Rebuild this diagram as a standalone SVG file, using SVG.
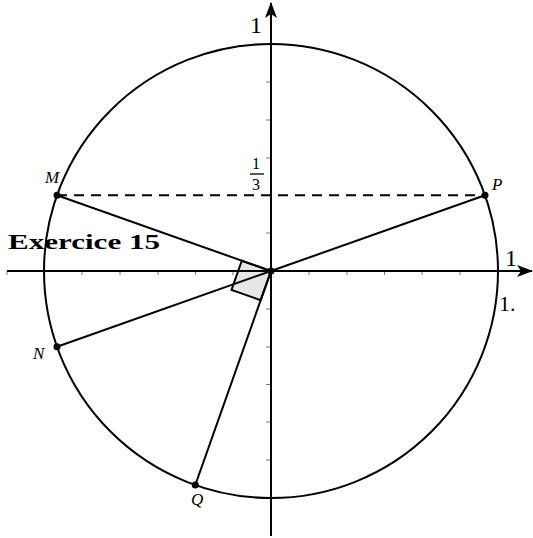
<svg xmlns="http://www.w3.org/2000/svg" width="533" height="538" viewBox="0 0 533 538">
<style>
.ax{stroke:#000;stroke-width:2;fill:none}
.tk{stroke:#777;stroke-width:1}
.ln{stroke:#000;stroke-width:2;fill:none}
.lbl{font-family:"Liberation Serif","DejaVu Serif",serif;fill:#000}
.it{font-style:italic;font-size:17px}
.pt{fill:#000}
</style>
<defs>
<marker id="arr" viewBox="0 0 16 12" refX="15" refY="6" markerWidth="16" markerHeight="12" markerUnits="userSpaceOnUse" orient="auto">
<path d="M0,0 L16,6 L0,12 L4,6 Z" fill="#000"/>
</marker>
</defs>
<rect width="533" height="538" fill="#fff"/>
<g id="ticks">
<path class="tk" d="M7,271v4M44.2,271v4M82,271v4M120,271v4M158,271v4M195.5,271v4M233,271v4M309,271v4M347,271v4M384.5,271v4M422,271v4M460,271v4M266,44.2h5M266,82h5M266,120h5M266,158h5M266,195.5h5M266,233h5M266,309h5M266,347h5M266,384.5h5M266,422h5M266,460h5M266,497.8h5"/>
</g>
<g id="angle">
<path d="M271,271 L241.8,260.7 L231.5,289.9 L260.7,300.2 Z" fill="#e6e6e6" stroke="#000" stroke-width="2"/>
</g>
<g id="circle">
<circle cx="271" cy="271" r="227" class="ln"/>
</g>
<g id="axes">
<line class="ax" x1="7" y1="271" x2="532" y2="271" marker-end="url(#arr)"/>
<line class="ax" x1="271" y1="536" x2="271" y2="3" marker-end="url(#arr)"/>
</g>
<g id="connectors">
<line class="ln" x1="57" y1="195.3" x2="485" y2="195.3" stroke-dasharray="10,7"/>
<line class="ln" x1="271" y1="271" x2="57" y2="195.3"/>
<line class="ln" x1="271" y1="271" x2="485" y2="195.3"/>
<line class="ln" x1="271" y1="271" x2="57" y2="346.7"/>
<line class="ln" x1="271" y1="271" x2="195.3" y2="485"/>
</g>
<g id="O"><circle class="pt" cx="271" cy="271" r="3.5"/></g>
<g id="M"><circle class="pt" cx="57" cy="195.3" r="3.5"/><text class="lbl it" x="45" y="183">M</text></g>
<g id="P"><circle class="pt" cx="485" cy="195.3" r="3.5"/><text class="lbl it" x="492" y="190">P</text></g>
<g id="N"><circle class="pt" cx="57" cy="346.7" r="3.5"/><text class="lbl it" x="33" y="359">N</text></g>
<g id="Q"><circle class="pt" cx="195.3" cy="485" r="3.5"/><text class="lbl it" x="191" y="505">Q</text></g>
<g id="labels">
<text class="lbl" x="250" y="33" font-size="24">1</text>
<text class="lbl" x="505" y="266" font-size="24">1</text>
<text class="lbl" x="499" y="311" font-size="22">1.</text>
<text class="lbl" x="252" y="169" font-size="16">1</text>
<line x1="250" y1="174" x2="264" y2="174" stroke="#000" stroke-width="1.3"/>
<text class="lbl" x="252" y="190" font-size="16">3</text>
<text class="lbl" x="8" y="249" font-size="21" font-weight="bold" textLength="152" lengthAdjust="spacingAndGlyphs">Exercice 15</text>
</g>
</svg>
